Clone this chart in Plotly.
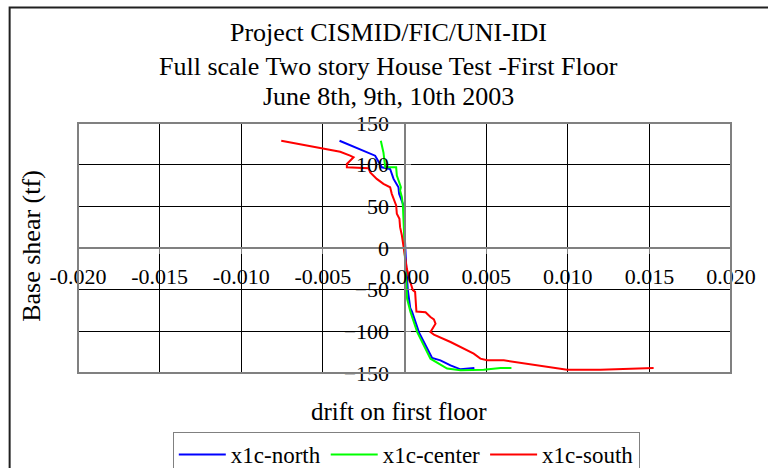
import plotly.graph_objects as go

# drift on first floor vs base shear (tf)
north_drift = [-0.00398, -0.0022, -0.0018, -0.00139, -0.00088, -0.00067, -0.00037, -0.00033,
               -0.00022, -0.00006, -0.00002, 0.0, 0.0001, 0.0002, 0.00035, 0.00047, 0.00088,
               0.00129, 0.00169, 0.0022, 0.00282, 0.00343, 0.00428]
north_shear = [128.7, 114.7, 110.8, 96.8, 94.8, 82.9, 72.9, 65, 59, 51, 43, 20, -20, -50, -72,
               -77, -100.9, -116.9, -132, -134.8, -140.8, -145.6, -143.9]

center_drift = [-0.00145, -0.00129, -0.00118, -0.00051, -0.00047, -0.00022, -0.00027, -0.00016,
                -0.0001, -0.00006, -0.00002, 0.0, 0.0001, 0.00016, 0.00037, 0.00078, 0.00118,
                0.00159, 0.00261, 0.00343, 0.00485, 0.00588, 0.00655]
center_shear = [128.7, 114.7, 96.8, 96.8, 86.9, 72.9, 69, 61, 51, 39, 15, -1, -33, -61, -77,
                -100.9, -116.9, -132.8, -144.7, -146.8, -146, -143.9, -143.9]

south_drift = [-0.00755, -0.00394, -0.00333, -0.00312, -0.00353, -0.00353, -0.0022, -0.0021,
               -0.0017, -0.00129, -0.00088, -0.00078, -0.00051, -0.00047, -0.00031, -0.00027,
               -0.00016, -0.00006, 0.0, 0.00014, 0.00035, 0.00051, 0.00065, 0.00073, 0.00129,
               0.00159, 0.0018, 0.0019, 0.00159, 0.0018, 0.00282, 0.00384, 0.00424, 0.00465,
               0.00506, 0.00608, 0.00791, 0.00996, 0.012, 0.014, 0.01526]
south_shear = [128.7, 115.5, 110.8, 108.8, 100.8, 96.8, 95.6, 90.8, 82.9, 76.9, 72.9, 65, 51, 41,
               35, 25, 15, 3, -4.8, -24.7, -40.6, -50.6, -52.6, -76.2, -77, -82.9, -85.7, -90.9,
               -100.9, -104, -112.8, -122.8, -126.8, -132.8, -134.8, -134.8, -140, -146, -146,
               -145, -143.9]

x_ticks = [-0.020, -0.015, -0.010, -0.005, 0.000, 0.005, 0.010, 0.015, 0.020]
x_labels = ["-0.020", "-0.015", "-0.010", "-0.005", "0.000", "0.005", "0.010", "0.015", "0.020"]
y_ticks = [-150, -100, -50, 0, 50, 100, 150]

FONT = "Liberation Serif"

fig = go.Figure()
fig.add_trace(go.Scatter(x=north_drift, y=north_shear, mode="lines", name="x1c-north",
                         line=dict(color="#0000FF", width=2)))
fig.add_trace(go.Scatter(x=center_drift, y=center_shear, mode="lines", name="x1c-center",
                         line=dict(color="#00FF00", width=2)))
fig.add_trace(go.Scatter(x=south_drift, y=south_shear, mode="lines", name="x1c-south",
                         line=dict(color="#FF0000", width=2)))

# plot border
fig.add_shape(type="rect", xref="paper", yref="paper", x0=0, y0=0, x1=1, y1=1,
              line=dict(color="#808080", width=2), layer="above")
# chart outer frame (left and top visible)
fig.add_shape(type="rect", xref="paper", yref="paper", x0=-0.1047, y0=-0.6, x1=1.3, y1=1.462,
              line=dict(color="#202020", width=2), layer="above")

# title lines
for txt, yp in [("Project CISMID/FIC/UNI-IDI", 1.36),
                ("Full scale Two story House Test -First Floor", 1.228),
                ("June 8th, 9th, 10th 2003", 1.104)]:
    fig.add_annotation(text=txt, xref="paper", yref="paper", x=0.476, y=yp, showarrow=False,
                       font=dict(family=FONT, size=26, color="black"), xanchor="center", yanchor="middle")

fig.add_annotation(text="Base shear (tf)", xref="paper", yref="paper", x=-0.0723, y=0.508,
                   textangle=-90, showarrow=False, xanchor="center", yanchor="middle",
                   font=dict(family=FONT, size=26, color="black"))
fig.add_annotation(text="drift on first floor", xref="paper", yref="paper", x=0.492, y=-0.154,
                   showarrow=False, xanchor="center", yanchor="middle",
                   font=dict(family=FONT, size=25, color="black"))

fig.update_layout(
    width=768, height=468,
    margin=dict(l=78, r=26, t=123, b=95),
    plot_bgcolor="white", paper_bgcolor="white",
    font=dict(family=FONT, size=20, color="black"),
    legend=dict(orientation="h", xref="container", yref="container", x=0.225, y=0.077,
                xanchor="left", yanchor="top",
                bordercolor="#808080", borderwidth=1, bgcolor="white",
                font=dict(family=FONT, size=23), itemwidth=47),
)
fig.update_xaxes(range=[-0.02, 0.02], tickvals=x_ticks, ticktext=x_labels,
                 showgrid=True, gridcolor="black", gridwidth=1, zeroline=False,
                 anchor="free", position=0.5, showline=True, linecolor="#808080", linewidth=2,
                 ticks="outside", ticklen=5, tickcolor="#808080", ticklabelstandoff=4,
                 tickfont=dict(family=FONT, size=22))
fig.update_yaxes(range=[-150, 150], tickvals=y_ticks,
                 showgrid=True, gridcolor="black", gridwidth=1, zeroline=False,
                 anchor="free", position=0.5, showline=True, linecolor="#808080", linewidth=2,
                 ticks="inside", ticklen=5, tickcolor="#808080", ticklabelstandoff=10,
                 tickfont=dict(family=FONT, size=22))

fig.write_html("out.html", config={"displayModeBar": False},
               post_script="document.body.style.margin='0';")
